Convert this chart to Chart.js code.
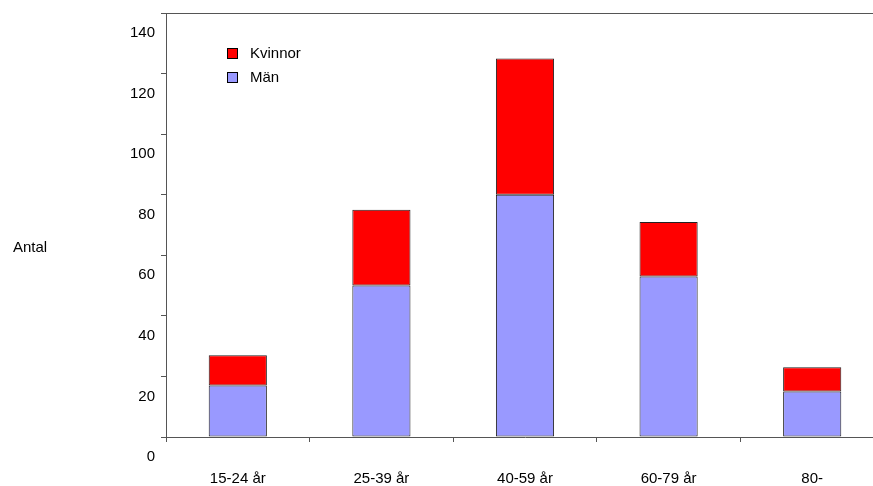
<!DOCTYPE html>
<html>
<head>
<meta charset="utf-8">
<script src="https://cdn.jsdelivr.net/npm/chart.js@4/dist/chart.umd.min.js"></script>
<style>
  html, body { margin: 0; padding: 0; background: #fff; overflow: hidden; }
  #wrap { position: relative; width: 884px; height: 486px; }
</style>
</head>
<body>
<div id="wrap"><canvas id="chart"></canvas></div>
<script>
// --- Data ---
const categories = ['15-24 år', '25-39 år', '40-59 år', '60-79 år', '80-'];
const man = [17, 50, 80, 53, 15];
const kvinnor = [10, 25, 45, 18, 8];
const yTicks = [0, 20, 40, 60, 80, 100, 120, 140];

const AXIS = '#555555';
const FONT = { family: 'Arial, "Liberation Sans", sans-serif', size: 15 };

// y-axis title "Antal", top border line and legend box
const extras = {
    id: 'extras',
    afterDraw(chart) {
        const c = chart.ctx;
        const a = chart.chartArea;
        c.save();
        c.strokeStyle = AXIS;
        c.lineWidth = 1;
        c.beginPath();
        c.moveTo(a.left, a.top + 0.5);
        c.lineTo(a.right, a.top + 0.5);
        c.stroke();

        c.fillStyle = '#000';
        c.font = '15px ' + FONT.family;
        c.textBaseline = 'middle';
        c.textAlign = 'left';
        c.fillText('Antal', 13, 248);

        const items = [chart.data.datasets[1], chart.data.datasets[0]];
        items.forEach((ds, i) => {
            const y = 48 + i * 24;
            c.fillStyle = ds.backgroundColor;
            c.fillRect(227.5, y + 0.5, 10, 10);
            c.strokeStyle = '#000';
            c.strokeRect(227.5, y + 0.5, 10, 10);
            c.fillStyle = '#000';
            c.fillText(ds.label, 250, y + 6);
        });
        c.restore();
    }
};

new Chart(document.getElementById('chart'), {
    type: 'bar',
    data: {
        labels: categories,
        datasets: [
            { label: 'Män', data: man, backgroundColor: '#9999FF', borderColor: '#222', borderWidth: 1, borderSkipped: false },
            { label: 'Kvinnor', data: kvinnor, backgroundColor: '#FF0000', borderColor: '#222', borderWidth: 1, borderSkipped: false }
        ]
    },
    options: {
        responsive: true,
        maintainAspectRatio: false,
        animation: false,
        layout: { padding: { top: 13, left: 0, right: 0, bottom: 0 } },
        plugins: { legend: { display: false }, tooltip: { enabled: false } },
        datasets: { bar: { categoryPercentage: 1, barPercentage: 0.405 } },
        scales: {
            x: {
                stacked: true,
                offset: true,
                afterFit: s => { s.height = 49; },
                border: { color: AXIS, width: 1 },
                grid: { offset: true, drawOnChartArea: false, drawTicks: true, tickLength: 5, color: AXIS },
                ticks: { color: '#000', font: FONT, padding: 28, maxRotation: 0 }
            },
            y: {
                stacked: true,
                min: 0,
                max: 140,
                afterFit: s => { s.width = 166; s.paddingTop = 0; s.paddingBottom = 0; },
                afterBuildTicks: s => { s.ticks = yTicks.map(v => ({ value: v })); },
                border: { color: AXIS, width: 1 },
                grid: { drawOnChartArea: false, drawTicks: true, tickLength: 5, color: AXIS },
                ticks: { color: '#000', font: FONT, padding: 6, labelOffset: 20 }
            }
        }
    },
    plugins: [extras]
});
</script>
</body>
</html>
